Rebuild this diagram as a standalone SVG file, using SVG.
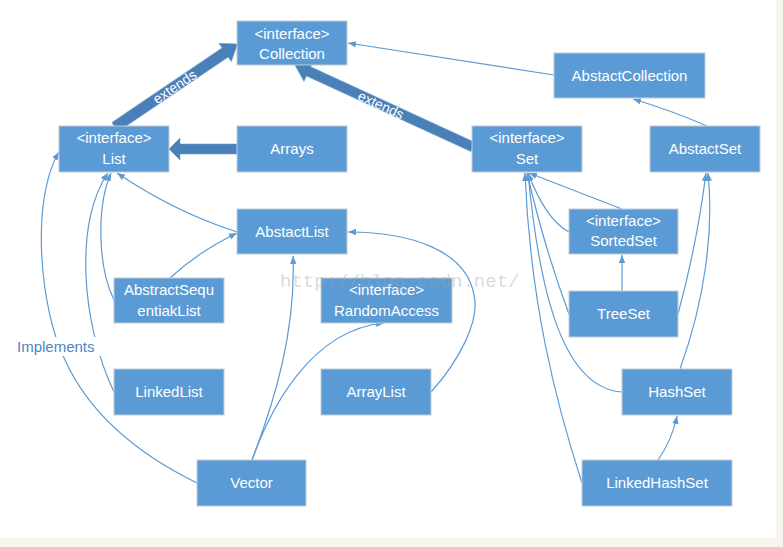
<svg xmlns="http://www.w3.org/2000/svg" width="783" height="547" viewBox="0 0 783 547">
<defs>
<marker id="ah" viewBox="0 0 10 10" markerWidth="8" markerHeight="8" refX="10" refY="5" orient="auto" markerUnits="userSpaceOnUse">
<path d="M0,1 L10,5 L0,9 z" fill="#5b9bd5"/>
</marker>
</defs>
<style>
.box{fill:#5b9bd5;stroke:#c3ccd6;stroke-width:1}
.t{font-family:"Liberation Sans",Arial,sans-serif;font-size:15px;fill:#ffffff;text-anchor:middle}
.c{fill:none;stroke:#5b9bd5;stroke-width:1.2;marker-end:url(#ah)}
.thick{fill:#4a80b8;stroke:#6d9ccf;stroke-width:0.6}
.ext{font-family:"Liberation Sans",Arial,sans-serif;font-size:14px;fill:#ffffff;text-anchor:middle}
.lbl{font-family:"Liberation Sans",Arial,sans-serif;font-size:15px;fill:#4a86c6}
.wm{font-family:"Liberation Mono","Courier New",monospace;font-size:19px;fill:#a0a0a0;fill-opacity:0.4}
</style>
<rect x="0" y="0" width="783" height="547" fill="#f7f5ee"/>
<rect x="0" y="0" width="776" height="538" fill="#ffffff"/>

<g id="connectors">
<path class="c" d="M554,75 L348,43"/>
<path class="c" d="M707,126 Q670,110 633,99"/>
<path class="c" d="M237,232 Q175,212 117,173"/>
<path class="c" d="M170,278 Q198,252 237,233"/>
<path class="c" d="M114,300 C97,265 97,205 111,173"/>
<path class="c" d="M114,392 C80,320 75,220 108,173"/>
<path class="c" d="M197,483 C140,455 90,415 65,360 C40,310 30,200 59,152"/>
<path class="c" d="M252,460 C275,400 296,330 293,256"/>
<path class="c" d="M252,460 C270,410 310,330 384,323"/>
<path class="c" d="M431,392 C460,360 480,320 474,295 C466,250 410,232 348,232"/>
<path class="c" d="M622,209 L529,173"/>
<path class="c" d="M569,232 Q546,220 528,173"/>
<path class="c" d="M622,291 L622,255"/>
<path class="c" d="M569,314 Q545,250 527,173"/>
<path class="c" d="M678,314 C690,270 700,220 706,173"/>
<path class="c" d="M680,369 C705,300 714,230 708,173"/>
<path class="c" d="M622,392 C565,388 540,300 528,173"/>
<path class="c" d="M582,483 C555,400 530,300 525,173"/>
<path class="c" d="M658,460 Q672,440 677,416"/>
<polygon class="thick" points="237,144 180,144 180,138 169,149 180,160 180,154 237,154"/>
<g transform="translate(115,127) rotate(-34.1)">
<polygon class="thick" points="0,-5.5 133,-5.5 133,-11 148,0 133,11 133,5.5 0,5.5"/>
<text class="ext" x="72" y="5">extends</text>
</g>
<g transform="translate(473,147) rotate(-155.3)">
<polygon class="thick" points="0,-5 181,-5 181,-11 196,0 181,11 181,5 0,5"/>
</g>
<text class="ext" transform="translate(381,105) rotate(24.7)" y="5">extends</text>
<rect x="15" y="337" width="87" height="19" fill="#ffffff"/>
<text class="lbl" x="17" y="351.5">Implements</text>
</g>

<g id="collection"><rect class="box" x="237" y="21" width="110" height="44"/><text class="t" x="292" y="38.5">&lt;interface&gt;</text><text class="t" x="292" y="58.5">Collection</text></g>
<g id="list"><rect class="box" x="59" y="126" width="110" height="46"/><text class="t" x="114" y="143">&lt;interface&gt;</text><text class="t" x="114" y="164">List</text></g>
<g id="arrays"><rect class="box" x="237" y="126" width="110" height="46"/><text class="t" x="292" y="154">Arrays</text></g>
<g id="abstactCollection"><rect class="box" x="554" y="53" width="151" height="45"/><text class="t" x="629.5" y="80.5">AbstactCollection</text></g>
<g id="set"><rect class="box" x="472" y="126" width="110" height="46"/><text class="t" x="527" y="143">&lt;interface&gt;</text><text class="t" x="527" y="164">Set</text></g>
<g id="abstactSet"><rect class="box" x="650" y="126" width="110" height="46"/><text class="t" x="705" y="154">AbstactSet</text></g>
<g id="abstactList"><rect class="box" x="237" y="209" width="110" height="45"/><text class="t" x="292" y="236.5">AbstactList</text></g>
<g id="abstractSequentialList"><rect class="box" x="114" y="278" width="110" height="45"/><text class="t" x="169" y="295">AbstractSequ</text><text class="t" x="169" y="315.5">entiakList</text></g>
<g id="randomAccess"><rect class="box" x="321" y="278" width="131" height="45"/><text class="t" x="386.5" y="295">&lt;interface&gt;</text><text class="t" x="386.5" y="316">RandomAccess</text></g>
<g id="sortedSet"><rect class="box" x="569" y="209" width="109" height="45"/><text class="t" x="623.5" y="226">&lt;interface&gt;</text><text class="t" x="623.5" y="246">SortedSet</text></g>
<g id="treeSet"><rect class="box" x="569" y="291" width="109" height="46"/><text class="t" x="623.5" y="319">TreeSet</text></g>
<g id="linkedList"><rect class="box" x="114" y="369" width="110" height="46"/><text class="t" x="169" y="397">LinkedList</text></g>
<g id="arrayList"><rect class="box" x="321" y="369" width="110" height="46"/><text class="t" x="376" y="397">ArrayList</text></g>
<g id="vector"><rect class="box" x="197" y="460" width="109" height="46"/><text class="t" x="251.5" y="488">Vector</text></g>
<g id="hashSet"><rect class="box" x="622" y="369" width="110" height="46"/><text class="t" x="677" y="397">HashSet</text></g>
<g id="linkedHashSet"><rect class="box" x="582" y="460" width="150" height="46"/><text class="t" x="657" y="488">LinkedHashSet</text></g>

<text class="wm" x="280" y="287">http://blog.csdn.net/</text>
</svg>
